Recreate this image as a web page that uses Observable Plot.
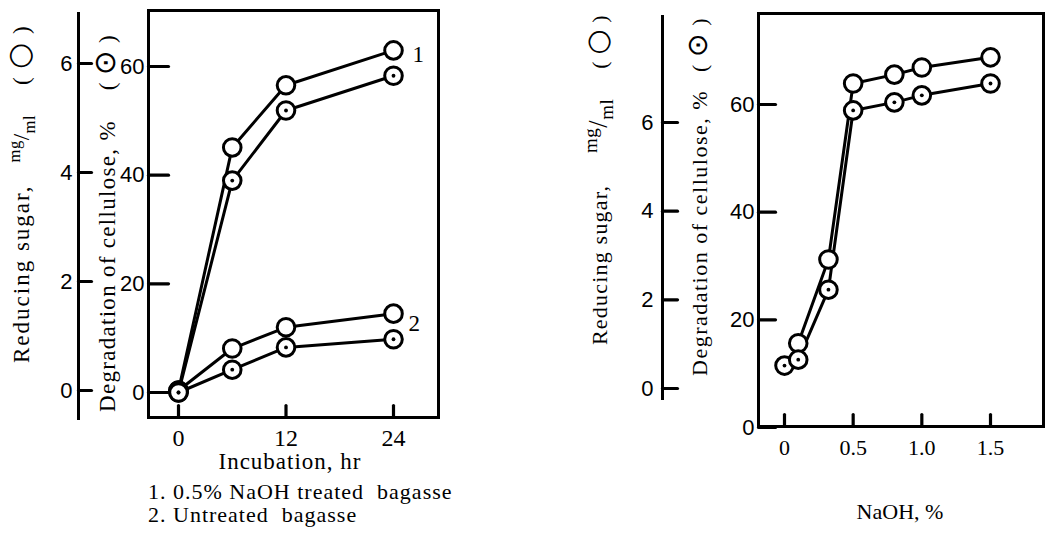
<!DOCTYPE html>
<html><head><meta charset="utf-8">
<script src="https://cdn.jsdelivr.net/npm/d3@7"></script>
<script src="https://cdn.jsdelivr.net/npm/@observablehq/plot@0.6"></script>
<style>
body{margin:0;background:#fff;}
#fig{position:relative;width:1046px;height:545px;overflow:hidden;background:#fff;font-family:"Liberation Serif","DejaVu Serif",serif;color:#000;}
#fig svg{position:absolute;top:0;}
.lbl{position:absolute;white-space:nowrap;font-size:23px;letter-spacing:1.8px;line-height:26px;}
.vert{transform:rotate(-90deg);transform-origin:0 0;height:26px;}
.ctr{transform:translate(-50%,-50%);}
.sym{font-family:"DejaVu Sans",sans-serif;font-size:1.3em;line-height:0;}
.frac{letter-spacing:0.5px;}
sup,sub{font-size:0.72em;line-height:0;}
</style></head><body><div id="fig"></div><script>
// ---- data ----
const incubationHr = [0, 6, 12, 24];
const sugarTreated = [0, 4.46, 5.60, 6.24];      // mg/ml, open circles, curve 1
const degradTreated = [0, 39.0, 51.9, 58.3];     // %, dotted circles, curve 1
const sugarUntreated = [0, 0.77, 1.16, 1.41];    // mg/ml, curve 2
const degradUntreated = [0, 4.2, 8.3, 9.8];      // %, curve 2
const seriesLabels = ["1", "2"];

const naohPct = [0, 0.1, 0.32, 0.5, 0.8, 1.0, 1.5];
const sugarNaoh = [null, 1.02, 2.91, 6.88, 7.08, 7.24, 7.47];
const degradNaoh = [11.5, 12.6, 25.6, 58.9, 60.4, 61.7, 63.9];

const hrTicks = [0, 12, 24];
const naohTicks = [0, 0.5, 1.0, 1.5];
const naohTickLabels = ["0", "0.5", "1.0", "1.5"];
const sugarTicks = [0, 2, 4, 6];
const degradTicks = [0, 20, 40, 60];

// ---- layout helpers ----
const fig = document.getElementById("fig");
function span(v0, p0, v1, p1, pa, pb) { const k = (v1 - v0) / (p1 - p0); return [v0 + (pa - p0) * k, v0 + (pb - p0) * k]; }
function place(svg, left) { svg.style.left = left + "px"; fig.appendChild(svg); }
const numFont = '"Liberation Sans Narrow","Liberation Sans",sans-serif';
const serif = '"Liberation Serif","DejaVu Serif",serif';

function rows(xs, ys, series) { return xs.map((x, i) => ({x, y: ys[i], series})).filter(d => d.y != null); }
// tick segments: each tick value gets a two-point segment
function hTicks(vals, x0, x1) { return vals.flatMap(v => [{k: v, x: x0, y: v}, {k: v, x: x1, y: v}]); }
function vTicks(vals, y0, y1) { return vals.flatMap(v => [{k: v, x: v, y: y0}, {k: v, x: v, y: y1}]); }

function panel(cfg) {
  const {left, width, height, frame: F} = cfg;
  const m = {marginLeft: F.L - left, marginRight: left + width - F.R, marginTop: F.T, marginBottom: height - F.B};
  const xDom = span(cfg.xCal[0], cfg.xCal[1], cfg.xCal[2], cfg.xCal[3], F.L, F.R);
  const degDom = span(cfg.degCal[0], cfg.degCal[1], cfg.degCal[2], cfg.degCal[3], F.B, F.T);
  const sugDom = span(cfg.sugCal[0], cfg.sugCal[1], cfg.sugCal[2], cfg.sugCal[3], F.B, F.T);
  const base = {width, height, ...m, x: {domain: xDom, axis: null}};
  const transparent = {background: "transparent", overflow: "visible", color: "black"};
  const lineOpts = {x: "x", y: "y", z: "series", stroke: "black", strokeWidth: 3};
  // inward tick ends expressed in scale units
  const yTickEnd = xDom[0] + cfg.yTickLen * (xDom[1] - xDom[0]) / (F.R - F.L);
  const xTickEnd = degDom[0] + 12 * (degDom[1] - degDom[0]) / (F.B - F.T);

  // layer 1: frame, inner tick labels, degradation lines
  place(Plot.plot({
    ...base, style: {background: "white", overflow: "visible", color: "black"},
    y: {domain: degDom, axis: null},
    marks: [
      Plot.frame({stroke: "black", strokeWidth: 3}),
      Plot.axisY(degradTicks, {anchor: "left", tickSize: 0, tickPadding: 4, label: null, tickFormat: d => String(d), fontFamily: numFont, fontSize: 22}),
      Plot.axisX(cfg.xTicks, {anchor: "bottom", tickSize: 0, tickPadding: cfg.xPad, label: null, tickFormat: cfg.xFormat, fontFamily: serif, fontSize: cfg.xFont}),
      Plot.line(cfg.deg, lineOpts)
    ]
  }), left);

  // layer 2: reducing sugar lines and open circles
  place(Plot.plot({
    ...base, style: transparent,
    y: {domain: sugDom, axis: null},
    marks: [
      Plot.line(cfg.sug, lineOpts),
      Plot.dot(cfg.sug, {x: "x", y: "y", r: 8.8, fill: "white", stroke: "black", strokeWidth: 3}),
      ...(cfg.seriesText || []).map(t => Plot.text([t], {x: "x", y: "y", text: "label", dx: t.dx, dy: t.dy, fontFamily: serif, fontSize: 23, textAnchor: "start"}))
    ]
  }), left);

  // layer 3 (top): inward ticks of the inner axes, then dotted degradation circles
  place(Plot.plot({
    ...base, style: transparent,
    y: {domain: degDom, axis: null},
    marks: [
      Plot.line(hTicks(degradTicks, xDom[0], yTickEnd), {x: "x", y: "y", z: "k", stroke: "black", strokeWidth: 3.2}),
      Plot.line(vTicks(cfg.xTicks, degDom[0], xTickEnd), {x: "x", y: "y", z: "k", stroke: "black", strokeWidth: 3.2}),
      Plot.dot(cfg.deg, {x: "x", y: "y", r: 8.8, fill: "white", stroke: "black", strokeWidth: 3}),
      Plot.dot(cfg.deg, {x: "x", y: "y", r: 1.9, fill: "black"})
    ]
  }), left);

  // layer 4: outer reducing-sugar axis (frame width = tick length)
  const O = cfg.outer;
  const ow = 120;
  const oDom = span(cfg.sugCal[0], cfg.sugCal[1], cfg.sugCal[2], cfg.sugCal[3], O.B, O.T);
  place(Plot.plot({
    width: ow, height, marginLeft: O.x - left, marginRight: left + ow - O.x - O.tick, marginTop: O.T, marginBottom: height - O.B,
    style: transparent,
    x: {domain: [0, 1], axis: null}, y: {domain: oDom, axis: null},
    marks: [
      Plot.ruleX([0], {stroke: "black", strokeWidth: 3}),
      Plot.line(hTicks(sugarTicks, 0, 1), {x: "x", y: "y", z: "k", stroke: "black", strokeWidth: 3.2}),
      Plot.axisY(sugarTicks, {anchor: "left", tickSize: 0, tickPadding: O.gap, label: null, tickFormat: d => String(d), fontFamily: numFont, fontSize: 22})
    ]
  }), left);
}

const treatedSug = rows(incubationHr, sugarTreated, "1");
const untreatedSug = rows(incubationHr, sugarUntreated, "2");
panel({
  left: 0, width: 460, height: 440,
  frame: {L: 148, R: 438, T: 10, B: 417},
  xCal: [0, 178, 24, 393], degCal: [0, 392, 60, 66], sugCal: [0, 390, 6, 63],
  outer: {x: 78, T: 12, B: 420, tick: 13, gap: 6},
  yTickLen: 20, xTicks: hrTicks, xPad: 11, xFont: 24, xFormat: d => String(d),
  deg: [...rows(incubationHr, degradTreated, "1"), ...rows(incubationHr, degradUntreated, "2")],
  sug: [...treatedSug, ...untreatedSug],
  seriesText: [
    {...treatedSug[treatedSug.length - 1], label: seriesLabels[0], dx: 19, dy: 4},
    {...untreatedSug[untreatedSug.length - 1], label: seriesLabels[1], dx: 15, dy: 10}
  ]
});

panel({
  left: 560, width: 486, height: 440,
  frame: {L: 758, R: 1043, T: 13, B: 426},
  xCal: [0, 784, 1.5, 990], degCal: [0, 427, 60, 104], sugCal: [0, 388, 6, 122],
  outer: {x: 662, T: 15, B: 400, tick: 15, gap: 9},
  yTickLen: 17, xTicks: naohTicks, xPad: 13, xFont: 22, xFormat: d => naohTickLabels[naohTicks.indexOf(d)],
  deg: rows(naohPct, degradNaoh, "n"),
  sug: rows(naohPct, sugarNaoh, "n")
});

// ---- text labels ----
function label(html, x, y, cls, extra) {
  const d = document.createElement("div");
  d.className = "lbl " + cls;
  d.innerHTML = html;
  d.style.left = x + "px"; d.style.top = y + "px";
  if (extra) Object.assign(d.style, extra);
  fig.appendChild(d);
}
// vertical label starting at (xc, yStart) reading upward
function vlabel(html, xc, yStart, extra) { label(html, xc - 13, yStart, "vert", extra); }
const sugarHtml = (g1, g2, fs) => `Reducing sugar,<span class="frac" style="margin-left:${g1}px;font-size:${fs}em"><sup>mg</sup>/<sub>ml</sub></span><span style="margin-left:${g2}px">(&thinsp;<span class="sym">&#x25CB;</span>&thinsp;)</span>`;
const degHtml = g => `Degradation of cellulose, %<span style="margin-left:${g}px">(&thinsp;<span class="sym">&#x2299;</span>&thinsp;)</span>`;
vlabel(sugarHtml(22, 30, 1), 22, 363, {letterSpacing: "2px"});
vlabel(degHtml(30), 108, 412, {letterSpacing: "1.3px"});
vlabel(sugarHtml(32, 30, 1.2), 598, 345, {fontSize: "22px", letterSpacing: "1.2px"});
vlabel(degHtml(18), 700, 376, {fontSize: "22px", letterSpacing: "1.5px"});
label("Incubation, hr", 290, 462, "ctr", {letterSpacing: "1px"});
label("NaOH, %", 900, 512, "ctr", {letterSpacing: "0px", fontSize: "22px"});
label("1. 0.5% NaOH treated&nbsp; bagasse", 148, 479, "", {fontSize: "22px", letterSpacing: "1px"});
label("2. Untreated&nbsp; bagasse", 148, 502, "", {fontSize: "22px", letterSpacing: "1px"});
</script></body></html>
